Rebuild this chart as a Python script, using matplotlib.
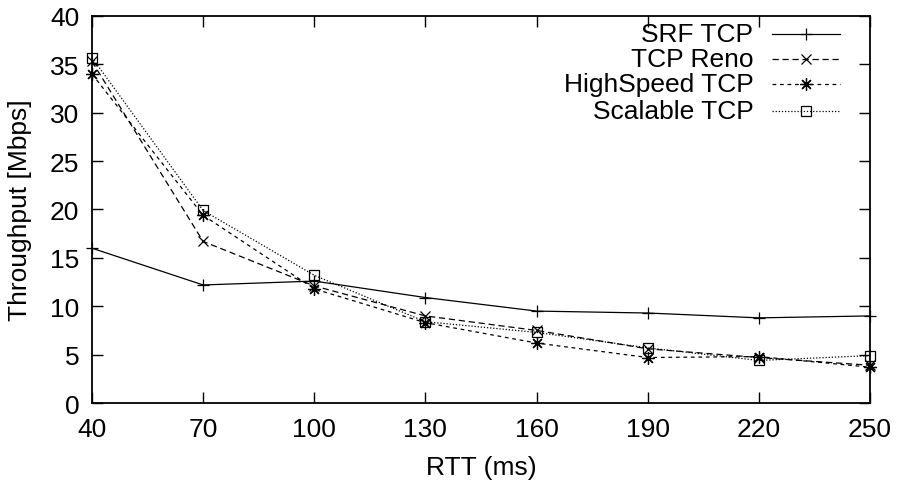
import matplotlib
matplotlib.use("Agg")
import matplotlib.pyplot as plt
from matplotlib.lines import Line2D

plt.rcParams['font.family'] = ['Liberation Sans', 'DejaVu Sans']

rtt = [40, 70, 100, 130, 160, 190, 220, 250]
srf_tcp = [16.0, 12.2, 12.6, 10.9, 9.5, 9.3, 8.8, 9.0]
tcp_reno = [35.3, 16.7, 12.1, 9.0, 7.5, 5.6, 4.7, 3.9]
highspeed_tcp = [34.0, 19.4, 11.8, 8.3, 6.2, 4.7, 4.8, 3.7]
scalable_tcp = [35.7, 19.9, 13.2, 8.4, 7.3, 5.7, 4.4, 4.9]

labels = ["SRF TCP", "TCP Reno", "HighSpeed TCP", "Scalable TCP"]
series = [srf_tcp, tcp_reno, highspeed_tcp, scalable_tcp]
styles = [
    dict(linestyle='-', marker='+', markersize=9),
    dict(linestyle=(0, (5, 3)), marker='x', markersize=7),
    dict(linestyle=(0, (3, 3)), marker=(8, 2, 0), markersize=9),
    dict(linestyle=(0, (1, 1.5)), marker='s', markersize=7, markerfacecolor='none'),
]

FS = 19

fig = plt.figure(figsize=(8.99, 4.85), dpi=100)
ax = fig.add_axes([0.1023, 0.167, 0.8654, 0.798])

for vals, st in zip(series, styles):
    ax.plot(rtt, vals, color='black', linewidth=0.9, markeredgewidth=0.9,
            clip_on=False, **st)

ax.set_xlim(40, 250)
ax.set_ylim(0, 40)
ax.set_xticks(rtt)
ax.set_yticks(range(0, 41, 5))
ax.tick_params(direction='in', length=8, width=1, labelsize=FS,
               top=True, right=True)
ax.tick_params(axis='x', pad=10)
ax.tick_params(axis='y', pad=9)
for s in ax.spines.values():
    s.set_linewidth(1.3)
ax.set_xlabel("RTT (ms)", fontsize=FS, labelpad=10)
ax.set_ylabel("Throughput [Mbps]", fontsize=FS, labelpad=13)

# key in the upper right: label text right-aligned, then a line sample
row_y = [0.953, 0.889, 0.824, 0.755]
for lab, st, y in zip(labels, styles, row_y):
    ax.text(0.850, y, lab, transform=ax.transAxes, ha='right', va='center',
            fontsize=FS)
    ln = Line2D([0.874, 0.918, 0.961], [y, y, y], transform=ax.transAxes,
                color='black', linewidth=0.9, markeredgewidth=0.9,
                markevery=[1], **st)
    ax.add_line(ln)

fig.savefig("out.png", dpi=100)
